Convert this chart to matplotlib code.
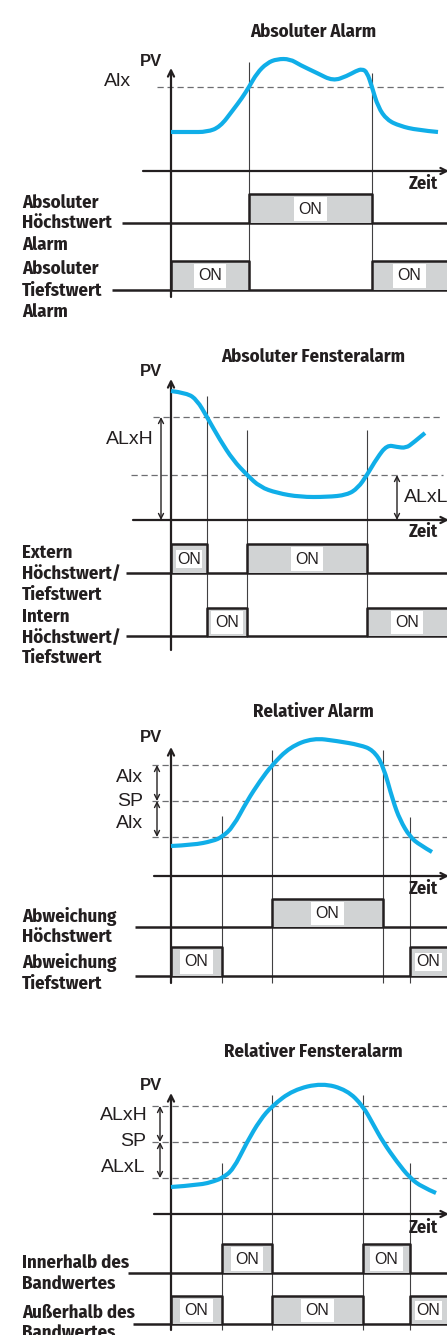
import matplotlib
matplotlib.use('Agg')
import matplotlib.pyplot as plt
from matplotlib.patches import Rectangle, PathPatch
from matplotlib.path import Path

INK = '#231f20'
BLUE = '#10aee8'
GRAY = '#d1d3d4'
DASH = '#6d6e71'
COND = ['Fira Sans Condensed', 'DejaVu Sans']
SANS = ['Liberation Sans', 'DejaVu Sans']
RIGHT = 452  # lines run past the right edge of the picture

# ---------------- data (pixel units) ----------------
titles = ['Absoluter Alarm', 'Absoluter Fensteralarm', 'Relativer Alarm', 'Relativer Fensteralarm']
title_y = [32, 357, 712, 1052]

# panel 1: Absoluter Alarm
p1_curve_x = [171, 190, 207, 220, 233, 242, 249, 257, 267, 277, 290, 300, 317, 333, 347, 356, 362, 367, 372, 378, 387, 400, 417, 438]
p1_curve_y = [132, 132, 132, 127, 110, 98, 87, 73, 63, 59, 59, 65, 73, 81, 76, 71, 69, 72, 87, 107, 120, 126, 130, 132]
p1_levels = [87]
p1_level_names = ['Alx']
p1_switch = [249, 372]
p1_switch_top = [62, 73]
p1_rows = ['Absoluter\nHöchstwert\nAlarm', 'Absoluter\nTiefstwert\nAlarm']
p1_on = [[(249, 372)], [(171, 249), (372, RIGHT)]]

# panel 2: Absoluter Fensteralarm
p2_curve_x = [171, 187, 197, 207, 220, 233, 247, 260, 277, 300, 327, 347, 358, 367, 377, 387, 397, 406, 413, 425]
p2_curve_y = [391, 393, 400, 417, 440, 460, 475, 487, 493, 497, 497, 495, 488, 475, 458, 445, 447, 448, 443, 433]
p2_levels = [417, 475]
p2_switch = [207, 247, 367]
p2_switch_top = [396, 430, 430]
p2_rows = ['Extern\nHöchstwert/\nTiefstwert', 'Intern\nHöchstwert/\nTiefstwert']
p2_on = [[(171, 207), (247, 367)], [(207, 247), (367, RIGHT)]]

# panel 3: Relativer Alarm
p3_curve_x = [171, 193, 213, 222, 233, 247, 260, 272, 290, 313, 337, 360, 373, 383, 393, 400, 410, 420, 432]
p3_curve_y = [846, 845, 841, 837, 827, 801, 781, 765, 747, 738, 741, 745, 750, 765, 801, 820, 837, 845, 852]
p3_levels = [765, 801, 837]
p3_level_names = ['Alx', 'SP', 'Alx']
p3_switch = [222, 272, 383, 410]
p3_switch_top = [816, 750, 750, 817]
p3_rows = ['Abweichung\nHöchstwert', 'Abweichung\nTiefstwert']
p3_on = [[(272, 383)], [(171, 222), (410, RIGHT)]]

# panel 4: Relativer Fensteralarm
p4_curve_x = [171, 200, 215, 222, 233, 247, 260, 272, 293, 322, 347, 363, 373, 383, 397, 410, 422, 436]
p4_curve_y = [1187, 1185, 1181, 1178, 1170, 1142, 1120, 1106, 1090, 1083, 1090, 1106, 1124, 1142, 1162, 1178, 1187, 1193]
p4_levels = [1106, 1142, 1178]
p4_level_names = ['ALxH', 'SP', 'ALxL']
p4_switch = [222, 272, 363, 410]
p4_switch_top = [1163, 1095, 1095, 1163]
p4_rows = ['Innerhalb des\nBandwertes', 'Außerhalb des\nBandwertes']
p4_on = [[(222, 272), (363, 410)], [(171, 222), (272, 363), (410, RIGHT)]]

# ---------------- drawing ----------------
fig = plt.figure(figsize=(4.47, 13.35), dpi=100)
ax = fig.add_axes([0, 0, 1, 1])
ax.set_xlim(0, 447)
ax.set_ylim(1335, 0)
ax.axis('off')

X0 = 171  # PV axis position


def line(x, y, lw=1.0, color=INK, **kw):
    ax.plot(x, y, color=color, lw=lw, solid_capstyle='butt', **kw)


def arrow(x0, y0, x1, y1, style='->', lw=1.5, ms=10):
    ax.annotate('', xy=(x1, y1), xytext=(x0, y0), annotation_clip=False,
                arrowprops=dict(arrowstyle=style, lw=lw, color=INK,
                                shrinkA=0, shrinkB=0, mutation_scale=ms))


def axes_frame(pv_top, pv_bottom, pv_label_y, t_y, t_x0, zeit_y):
    arrow(X0, pv_bottom, X0, pv_top, lw=1.6, ms=11)
    ax.text(151, pv_label_y, 'PV', family=SANS, weight='bold', fontsize=12,
            ha='center', va='center', color=INK)
    arrow(t_x0, t_y, 449, t_y, lw=1.6, ms=11)
    ax.text(423, zeit_y, 'Zeit', family=COND, weight='bold', fontsize=13,
            ha='center', va='center', color=INK)


def dashed(y, x0, x1=447):
    line([x0, x1], [y, y], lw=0.9, color=DASH, ls=(0, (5, 3)))


def curve(xs, ys):
    # smooth quadratic path using the read points as control points
    pts = list(zip(xs, ys))
    verts = [pts[0]]
    codes = [Path.MOVETO]
    for i in range(1, len(pts) - 2):
        mid = ((pts[i][0] + pts[i + 1][0]) / 2, (pts[i][1] + pts[i + 1][1]) / 2)
        verts += [pts[i], mid]
        codes += [Path.CURVE3, Path.CURVE3]
    verts += [pts[-2], pts[-1]]
    codes += [Path.CURVE3, Path.CURVE3]
    ax.add_patch(PathPatch(Path(verts, codes), facecolor='none', edgecolor=BLUE,
                           lw=3.0, capstyle='butt', joinstyle='round', zorder=4))


def switches(xs, tops, bottom):
    for x, t in zip(xs, tops):
        line([x, x], [t, bottom], lw=0.8, color='#414042')


def row(label, base_y, label_x_end, top_y, intervals, label_ys):
    line([label_x_end, RIGHT], [base_y, base_y], lw=1.8)
    for (a, b) in intervals:
        ax.add_patch(Rectangle((a, top_y), b - a, base_y - top_y, facecolor=GRAY,
                               edgecolor='none', zorder=2))
        line([a, a, b, b], [base_y, top_y, top_y, base_y], lw=1.8, zorder=3)
        w = min(b, 447) - a
        ax.text((a + min(b, 447)) / 2, (top_y + base_y) / 2 + 0.5, 'ON', family=SANS,
                fontsize=11.5, ha='center', va='center', color=INK, zorder=5,
                bbox=dict(boxstyle='square,pad=%.2f' % (0.1 if w < 40 else 0.26),
                          facecolor='white', edgecolor='none'))
    for txt, y in zip(label.split('\n'), label_ys):
        ax.text(22, y, txt, family=COND, weight='bold', fontsize=13.5,
                ha='left', va='center', color=INK)


for t, y in zip(titles, title_y):
    ax.text(313, y, t, family=COND, weight='bold', fontsize=13.5,
            ha='center', va='center', color=INK)

# panel 1
dashed(p1_levels[0], 157)
ax.text(118, 82, p1_level_names[0], family=SANS, fontsize=14, ha='center', va='center', color=INK)
switches(p1_switch, p1_switch_top, 290)
axes_frame(68, 297, 61, 171, 143, 184)
curve(p1_curve_x, p1_curve_y)
row(p1_rows[0], 223, 122, 194, p1_on[0], [203, 223, 245])
row(p1_rows[1], 290, 112, 261, p1_on[1], [269, 291, 312])

# panel 2
dashed(p2_levels[0], 153, 440)
dashed(p2_levels[1], 131, 443)
arrow(161, 520, 161, p2_levels[0], style='<->', lw=1.0, ms=9)
arrow(397, 520, 397, p2_levels[1], style='<->', lw=1.0, ms=9)
ax.text(130, 440, 'ALxH', family=SANS, fontsize=14, ha='center', va='center', color=INK)
ax.text(404, 498, 'ALxL', family=SANS, fontsize=14, ha='left', va='center', color=INK)
switches(p2_switch, p2_switch_top, 637)
axes_frame(379, 650, 371, 520, 133, 532)
curve(p2_curve_x, p2_curve_y)
row(p2_rows[0], 573, 126, 544, p2_on[0], [553, 574, 595])
row(p2_rows[1], 636, 126, 608, p2_on[1], [617, 638, 658])

# panel 3
for lv in p3_levels:
    dashed(lv, 152)
arrow(157, p3_levels[1], 157, p3_levels[0], style='<->', lw=1.0, ms=9)
arrow(157, p3_levels[1], 157, p3_levels[2], style='<->', lw=1.0, ms=9)
for name, y in zip(p3_level_names, [777, 801, 824]):
    ax.text(130, y, name, family=SANS, fontsize=14, ha='center', va='center', color=INK)
switches(p3_switch, p3_switch_top, 983)
axes_frame(747, 983, 738, 876, 154, 889)
curve(p3_curve_x, p3_curve_y)
row(p3_rows[0], 927, 135, 899, p3_on[0], [916, 937])
row(p3_rows[1], 976, 135, 947, p3_on[1], [962, 984])

# panel 4
for lv in p4_levels:
    dashed(lv, 152)
arrow(160, p4_levels[1], 160, p4_levels[0], style='<->', lw=1.0, ms=9)
arrow(160, p4_levels[1], 160, p4_levels[2], style='<->', lw=1.0, ms=9)
for name, x, y in zip(p4_level_names, [124, 133, 123], [1116, 1142, 1168]):
    ax.text(x, y, name, family=SANS, fontsize=14, ha='center', va='center', color=INK)
switches(p4_switch, p4_switch_top, 1330)
axes_frame(1093, 1330, 1086, 1214, 154, 1228)
curve(p4_curve_x, p4_curve_y)
row(p4_rows[0], 1273, 128, 1244, p4_on[0], [1263, 1284])
row(p4_rows[1], 1324, 133, 1296, p4_on[1], [1313, 1333])

fig.savefig('out.png', dpi=100)
